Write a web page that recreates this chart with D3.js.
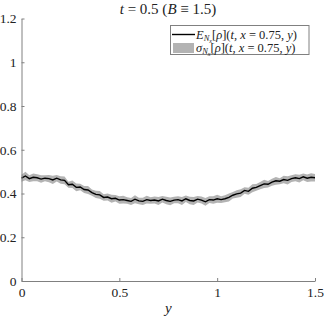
<!DOCTYPE html>
<html>
<head>
<meta charset="utf-8">
<script src="https://cdn.jsdelivr.net/npm/d3@7"></script>
<style>
  body { margin: 0; background: #fff; }
  .axis path, .axis line { stroke: #808080; }
</style>
</head>
<body>
<svg width="324" height="318"></svg>
<script>
const serif = "'Liberation Serif', 'Times New Roman', serif"

// y positions along the cut x = 0.75
const yGrid = [0.00, 0.02, 0.04, 0.06, 0.08, 0.10, 0.12, 0.14, 0.16, 0.18,
  0.20, 0.22, 0.24, 0.26, 0.28, 0.30, 0.32, 0.34, 0.36, 0.38,
  0.40, 0.42, 0.44, 0.46, 0.48, 0.50, 0.52, 0.54, 0.56, 0.58,
  0.60, 0.62, 0.64, 0.66, 0.68, 0.70, 0.72, 0.74, 0.76, 0.78,
  0.80, 0.82, 0.84, 0.86, 0.88, 0.90, 0.92, 0.94, 0.96, 0.98,
  1.00, 1.02, 1.04, 1.06, 1.08, 1.10, 1.12, 1.14, 1.16, 1.18,
  1.20, 1.22, 1.24, 1.26, 1.28, 1.30, 1.32, 1.34, 1.36, 1.38,
  1.40, 1.42, 1.44, 1.46, 1.48, 1.50]

// mean E_Nx[rho]
const meanRho = [0.470, 0.480, 0.468, 0.474, 0.472, 0.466, 0.470, 0.468, 0.462, 0.470,
  0.462, 0.460, 0.440, 0.442, 0.428, 0.430, 0.418, 0.416, 0.404, 0.396,
  0.394, 0.382, 0.384, 0.376, 0.378, 0.370, 0.372, 0.368, 0.364, 0.374,
  0.366, 0.364, 0.372, 0.368, 0.370, 0.366, 0.374, 0.368, 0.364, 0.370,
  0.372, 0.366, 0.376, 0.368, 0.366, 0.374, 0.370, 0.362, 0.372, 0.370,
  0.376, 0.372, 0.376, 0.382, 0.392, 0.398, 0.402, 0.414, 0.410, 0.424,
  0.428, 0.436, 0.444, 0.442, 0.452, 0.458, 0.456, 0.464, 0.460, 0.468,
  0.472, 0.468, 0.476, 0.470, 0.474, 0.472]

// std sigma_Nx[rho]
const sigmaRho = [0.016, 0.019, 0.015, 0.018, 0.016, 0.017, 0.014, 0.017, 0.019, 0.015,
  0.017, 0.018, 0.014, 0.017, 0.018, 0.015, 0.016, 0.018, 0.014, 0.017,
  0.018, 0.015, 0.016, 0.018, 0.015, 0.017, 0.018, 0.015, 0.016, 0.018,
  0.015, 0.017, 0.018, 0.015, 0.016, 0.018, 0.015, 0.017, 0.018, 0.015,
  0.016, 0.018, 0.015, 0.017, 0.018, 0.015, 0.016, 0.018, 0.015, 0.017,
  0.018, 0.015, 0.016, 0.018, 0.015, 0.017, 0.018, 0.015, 0.016, 0.018,
  0.015, 0.017, 0.019, 0.015, 0.016, 0.018, 0.014, 0.017, 0.019, 0.015,
  0.016, 0.018, 0.015, 0.017, 0.019, 0.017]

const xTicks = [0, 0.5, 1, 1.5]
const yTicks = [0, 0.2, 0.4, 0.6, 0.8, 1, 1.2]

const margin = { left: 21.5, right: 9, top: 18.5, bottom: 37 }
const width = 324, height = 318

const svg = d3.select('svg')

const x = d3.scaleLinear()
  .domain([0, 1.5])
  .range([margin.left, width - margin.right])

const y = d3.scaleLinear()
  .domain([0, 1.2])
  .range([height - margin.bottom, margin.top])

const data = yGrid.map((d, i) => ({ y: d, m: meanRho[i], s: sigmaRho[i] }))

// sigma band
const area = d3.area()
  .x(d => x(d.y))
  .y0(d => y(d.m - d.s))
  .y1(d => y(d.m + d.s))

svg.append('path')
  .datum(data)
  .attr('d', area)
  .attr('fill', '#b3b3b3')

// mean line
const line = d3.line()
  .x(d => x(d.y))
  .y(d => y(d.m))

svg.append('path')
  .datum(data)
  .attr('d', line)
  .attr('fill', 'none')
  .attr('stroke', '#000')
  .attr('stroke-width', 1.4)

// axes, ticks inside like matlab
const fmt = d => String(d)

svg.append('g')
  .attr('class', 'axis')
  .attr('transform', `translate(0,${y(0)})`)
  .call(d3.axisBottom(x).tickValues(xTicks).tickFormat(fmt).tickSize(-3).tickPadding(6).tickSizeOuter(0))
  .attr('font-family', serif)
  .attr('font-size', 13.5)
  .call(g => g.selectAll('text').attr('fill', '#222'))

svg.append('g')
  .attr('class', 'axis')
  .attr('transform', `translate(${x(0)},0)`)
  .call(d3.axisLeft(y).tickValues(yTicks).tickFormat(fmt).tickSize(-3).tickPadding(5).tickSizeOuter(0))
  .attr('font-family', serif)
  .attr('font-size', 13.5)
  .call(g => g.selectAll('text').attr('fill', '#222'))

// title
const title = svg.append('text')
  .attr('x', 168)
  .attr('y', 14)
  .attr('text-anchor', 'middle')
  .attr('font-family', serif)
  .attr('font-size', 15)
  .attr('fill', '#222')
title.append('tspan').attr('font-style', 'italic').text('t')
title.append('tspan').text(' = 0.5 (')
title.append('tspan').attr('font-style', 'italic').text('B')
title.append('tspan').text(' ≡ 1.5)')

// x label
svg.append('text')
  .attr('x', x(0.75))
  .attr('y', 313)
  .attr('text-anchor', 'middle')
  .attr('font-family', serif)
  .attr('font-size', 15)
  .attr('font-style', 'italic')
  .attr('fill', '#222')
  .text('y')

// legend
const lg = svg.append('g')

lg.append('rect')
  .attr('x', 170.5)
  .attr('y', 25.5)
  .attr('width', 138.5)
  .attr('height', 29)
  .attr('fill', '#fff')
  .attr('stroke', '#808080')

lg.append('line')
  .attr('x1', 172).attr('x2', 195)
  .attr('y1', 34.5).attr('y2', 34.5)
  .attr('stroke', '#000')
  .attr('stroke-width', 1.4)

lg.append('rect')
  .attr('x', 173).attr('y', 43)
  .attr('width', 21).attr('height', 10)
  .attr('fill', '#b3b3b3')

function legendLabel(sym, yy) {
  const t = lg.append('text')
    .attr('x', 196)
    .attr('y', yy)
    .attr('font-family', serif)
    .attr('font-size', 12.5)
    .attr('fill', '#222')
  t.append('tspan').attr('font-style', 'italic').text(sym)
  t.append('tspan').attr('font-style', 'italic').attr('font-size', 8.5).attr('dy', 2.5).text('N')
  t.append('tspan').attr('font-style', 'italic').attr('font-size', 6).attr('dy', 1.5).text('x')
  t.append('tspan').attr('dy', -4).text('[')
  t.append('tspan').attr('font-style', 'italic').text('ρ')
  t.append('tspan').text('](')
  t.append('tspan').attr('font-style', 'italic').text('t, x')
  t.append('tspan').text(' = 0.75, ')
  t.append('tspan').attr('font-style', 'italic').text('y')
  t.append('tspan').text(')')
}

legendLabel('E', 38.5)
legendLabel('σ', 51.5)
</script>
</body>
</html>
